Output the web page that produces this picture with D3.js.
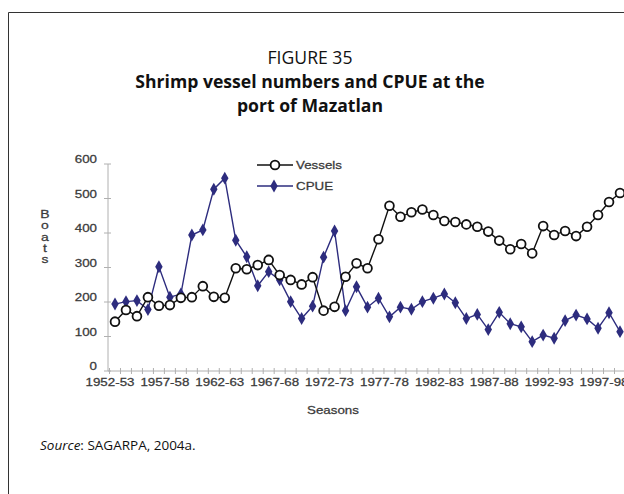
<!DOCTYPE html>
<html><head><meta charset="utf-8">
<script src="https://cdn.jsdelivr.net/npm/d3@7"></script>
<style>body{margin:0;background:#fff;} svg{display:block;}</style>
</head><body><svg id="c" width="624" height="494"></svg>
<script>
const seasons = ["1952-53","1953-54","1954-55","1955-56","1956-57","1957-58","1958-59","1959-60","1960-61","1961-62","1962-63","1963-64","1964-65","1965-66","1966-67","1967-68","1968-69","1969-70","1970-71","1971-72","1972-73","1973-74","1974-75","1975-76","1976-77","1977-78","1978-79","1979-80","1980-81","1981-82","1982-83","1983-84","1984-85","1985-86","1986-87","1987-88","1988-89","1989-90","1990-91","1991-92","1992-93","1993-94","1994-95","1995-96","1996-97","1997-98","1998-99"];
const vessels = [143,177,159,214,189,191,212,214,246,215,212,298,295,307,322,278,264,251,272,175,186,273,312,298,382,479,447,460,468,452,435,432,425,418,404,378,353,368,341,420,394,406,391,418,452,490,516];
const cpue = [194,201,204,178,302,214,223,394,409,527,559,379,331,247,288,264,201,152,188,330,406,175,244,185,211,157,185,179,201,211,223,198,152,164,120,170,137,128,85,104,95,146,162,151,124,169,114];
const tickLabels = ["1952-53","1957-58","1962-63","1967-68","1972-73","1977-78","1982-83","1987-88","1992-93","1997-98"];
const yTicks = [0,100,200,300,400,500,600];
const seriesNames = ["Vessels","CPUE"];

const svg = d3.select("#c");
const SX = 1.27; // horizontal stretch of chart text
const chartFont = "'Liberation Sans', Arial, sans-serif";

// frame
svg.append("path").attr("d","M8.5,494 L8.5,12.5 L624,12.5").attr("fill","none").attr("stroke","#333").attr("stroke-width",1);

// titles
const tf = "'Open Sans','Noto Sans',sans-serif";
svg.append("text").attr("x",310).attr("y",64).attr("text-anchor","middle").attr("font-family",tf).attr("font-size",17.6).attr("fill","#111").text("FIGURE 35");
svg.append("text").attr("x",310).attr("y",88).attr("text-anchor","middle").attr("font-family",tf).attr("font-weight","bold").attr("font-size",17.6).attr("fill","#111").text("Shrimp vessel numbers and CPUE at the");
svg.append("text").attr("x",310).attr("y",112).attr("text-anchor","middle").attr("font-family",tf).attr("font-weight","bold").attr("font-size",17.6).attr("fill","#111").text("port of Mazatlan");

// scales
const x0 = 115, x1 = 620;
const step = (x1 - x0) / (seasons.length - 1);
const xb = d3.scaleBand().domain(seasons).range([x0 - step/2, x1 + step/2]).paddingInner(0).paddingOuter(0);
const xc = d => xb(d) + xb.bandwidth()/2;
const y = d3.scaleLinear().domain([0,600]).range([371,164]);

function stext(g, x, yy, txt, anchor, opts={}) {
  return g.append("text")
    .attr("transform",`translate(${x},${yy}) scale(${SX},1)`)
    .attr("text-anchor",anchor)
    .attr("font-family",chartFont)
    .attr("font-size",opts.size||10.5)
    .attr("font-weight",opts.weight||"normal")
    .attr("fill",opts.fill||"#3a3a3a")
    .attr("stroke",opts.fill||"#3a3a3a").attr("stroke-width",0.25)
    .text(txt);
}

const axisColor = "#b0b0b0";
// y axis
const gy = svg.append("g");
gy.append("line").attr("x1",108).attr("x2",108).attr("y1",y(600)).attr("y2",y(0)).attr("stroke",axisColor);
yTicks.forEach(t => {
  gy.append("line").attr("x1",104).attr("x2",111).attr("y1",y(t)).attr("y2",y(t)).attr("stroke",axisColor);
  stext(gy, 97, y(t)-1, String(t), "end");
});
// x axis
const gx = svg.append("g");
gx.append("line").attr("x1",108).attr("x2",624).attr("y1",y(0)).attr("y2",y(0)).attr("stroke",axisColor);
seasons.forEach(s => {
  const xx = xb(s);
  gx.append("line").attr("x1",xx).attr("x2",xx).attr("y1",y(0)-3).attr("y2",y(0)+3).attr("stroke",axisColor);
});
tickLabels.forEach(s => {
  stext(gx, xc(s)-5, 386, s, "middle");
});
// axis titles
stext(svg, 333, 414, "Seasons", "middle");
"Boats".split("").forEach((ch,i) => stext(svg, 45, 218 + i*11.3, ch, "middle", {size:11}));

// lines
const navy = "#2d2c7e";
const line = vals => d3.line().x((d,i)=>xc(seasons[i])).y(d=>y(d))(vals);
svg.append("path").attr("d",line(cpue)).attr("fill","none").attr("stroke",navy).attr("stroke-width",1.4);
const diamond = d3.symbol().type(d3.symbolDiamond).size(48);
svg.append("g").selectAll("path").data(cpue).join("path")
  .attr("d",diamond).attr("transform",(d,i)=>`translate(${xc(seasons[i])},${y(d)})`).attr("fill",navy);

svg.append("path").attr("d",line(vessels)).attr("fill","none").attr("stroke","#111").attr("stroke-width",1.4);
svg.append("g").selectAll("circle").data(vessels).join("circle")
  .attr("cx",(d,i)=>xc(seasons[i])).attr("cy",d=>y(d)).attr("r",4.4)
  .attr("fill","#fff").attr("stroke","#111").attr("stroke-width",1.8);

// legend
const lg = svg.append("g");
lg.append("line").attr("x1",257).attr("x2",293).attr("y1",165).attr("y2",165).attr("stroke","#111").attr("stroke-width",1.4);
lg.append("circle").attr("cx",275).attr("cy",165).attr("r",4.4).attr("fill","#fff").attr("stroke","#111").attr("stroke-width",1.8);
stext(lg, 296, 169, seriesNames[0], "start");
lg.append("line").attr("x1",257).attr("x2",293).attr("y1",186).attr("y2",186).attr("stroke",navy).attr("stroke-width",1.4);
lg.append("path").attr("d",diamond).attr("transform","translate(274,186)").attr("fill",navy);
stext(lg, 296, 190, seriesNames[1], "start");

// source
const src = svg.append("text").attr("x",40).attr("y",450).attr("font-family",tf).attr("font-size",13.5).attr("fill","#111");
src.append("tspan").attr("font-style","italic").text("Source");
src.append("tspan").text(": SAGARPA, 2004a.");
</script></body></html>
